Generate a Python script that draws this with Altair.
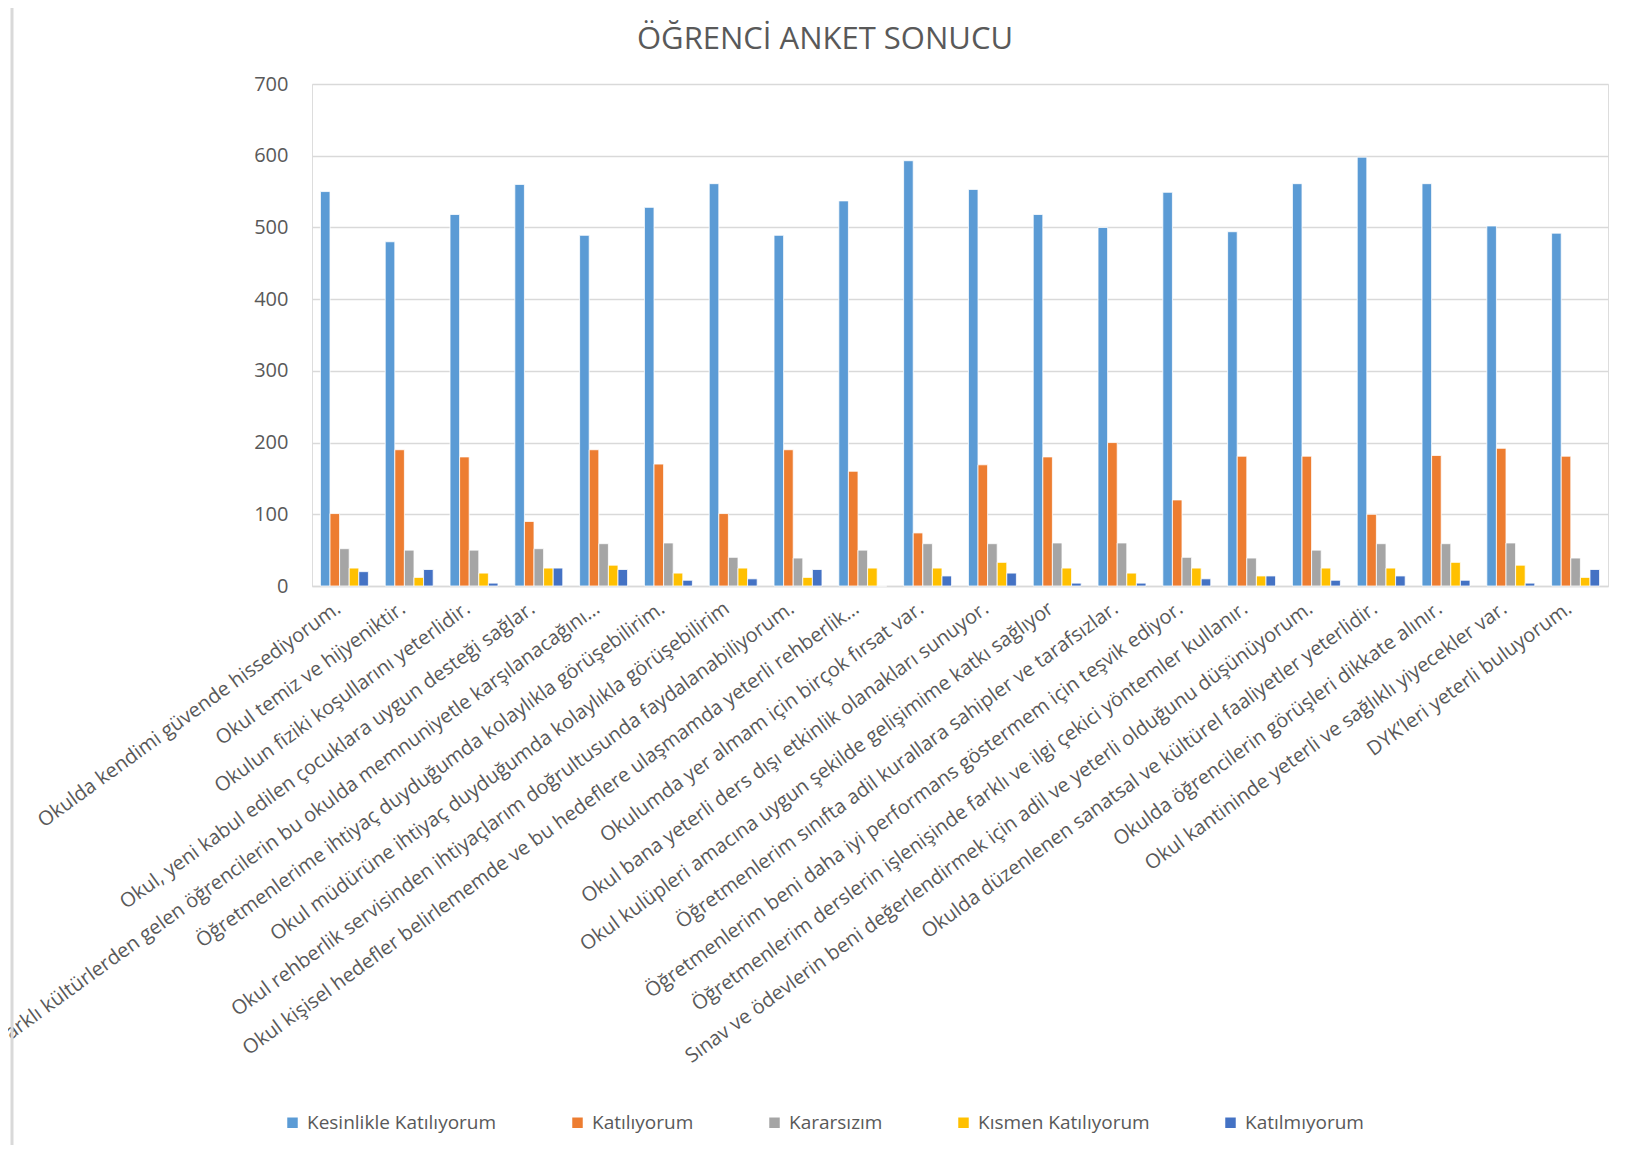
import altair as alt
import pandas as pd

categories = [
    "Okulda kendimi güvende hissediyorum.",
    "Okul temiz ve hijyeniktir.",
    "Okulun fiziki koşullarını yeterlidir.",
    "Okul, yeni kabul edilen çocuklara uygun desteği sağlar.",
    "Farklı kültürlerden gelen öğrencilerin bu okulda memnuniyetle karşılanacağını…",
    "Öğretmenlerime ihtiyaç duyduğumda kolaylıkla görüşebilirim.",
    "Okul müdürüne ihtiyaç duyduğumda kolaylıkla görüşebilirim",
    "Okul rehberlik servisinden ihtiyaçlarım doğrultusunda faydalanabiliyorum.",
    "Okul kişisel hedefler belirlememde ve bu hedeflere ulaşmamda yeterli rehberlik…",
    "Okulumda yer almam için birçok fırsat var.",
    "Okul bana yeterli ders dışı etkinlik olanakları sunuyor.",
    "Okul kulüpleri amacına uygun şekilde gelişimime katkı sağlıyor",
    "Öğretmenlerim sınıfta adil kurallara sahipler ve tarafsızlar.",
    "Öğretmenlerim beni daha iyi performans göstermem için teşvik ediyor.",
    "Öğretmenlerim derslerin işlenişinde farklı ve ilgi çekici yöntemler kullanır.",
    "Sınav ve ödevlerin beni değerlendirmek için adil ve yeterli olduğunu düşünüyorum.",
    "Okulda düzenlenen sanatsal ve kültürel faaliyetler yeterlidir.",
    "Okulda öğrencilerin görüşleri dikkate alınır.",
    "Okul kantininde yeterli ve sağlıklı yiyecekler var.",
    "DYK’leri yeterli buluyorum.",
]

series_names = ["Kesinlikle Katılıyorum", "Katılıyorum", "Kararsızım", "Kısmen Katılıyorum", "Katılmıyorum"]
series_colors = ["#5B9BD5", "#ED7D31", "#A5A5A5", "#FFC000", "#4472C4"]

kesinlikle_katiliyorum = [550, 480, 518, 560, 489, 528, 561, 489, 537, 593, 553, 518, 500, 549, 494, 561, 598, 561, 502, 492]
katiliyorum = [101, 190, 180, 90, 190, 170, 101, 190, 160, 74, 169, 180, 200, 120, 181, 181, 100, 182, 192, 181]
kararsizim = [52, 50, 50, 52, 59, 60, 40, 39, 50, 59, 59, 60, 60, 40, 39, 50, 59, 59, 60, 39]
kismen_katiliyorum = [25, 12, 18, 25, 29, 18, 25, 12, 25, 25, 33, 25, 18, 25, 14, 25, 25, 33, 29, 12]
katilmiyorum = [20, 23, 4, 25, 23, 8, 10, 23, 0, 14, 18, 4, 4, 10, 14, 8, 14, 8, 4, 23]

chart_title = ["ÖĞRENCİ ANKET SONUCU"]

series_values = [kesinlikle_katiliyorum, katiliyorum, kararsizim, kismen_katiliyorum, katilmiyorum]

rows = []
for name, vals in zip(series_names, series_values):
    for cat, v in zip(categories, vals):
        rows.append({"Soru": cat, "Cevap": name, "Sayı": v})
df = pd.DataFrame(rows)

FONT = "Open Sans"
TEXT = "#595959"
GRID = "#D9D9D9"

bars = alt.Chart(df).mark_bar(stroke="white", strokeWidth=0.8).encode(
    x=alt.X(
        "Soru:N",
        sort=categories,
        scale=alt.Scale(paddingInner=0.26, paddingOuter=0.13),
        axis=alt.Axis(
            title=None,
            labelAngle=-36,
            labelAlign="right",
            labelBaseline="middle",
            labelOffset=-6,
            labelPadding=20,
            labelFontSize=20,
            labelFont=FONT,
            labelColor=TEXT,
            labelLimit=0,
            labelOverlap=False,
            ticks=False,
            domainColor=GRID,
            domainWidth=1.5,
        ),
    ),
    xOffset=alt.XOffset("Cevap:N", sort=series_names, scale=alt.Scale(paddingInner=0.0)),
    y=alt.Y(
        "Sayı:Q",
        scale=alt.Scale(domain=[0, 700]),
        axis=alt.Axis(
            title=None,
            values=[0, 100, 200, 300, 400, 500, 600, 700],
            labelFontSize=20,
            labelFont=FONT,
            labelColor=TEXT,
            labelPadding=24,
            ticks=False,
            domain=False,
            grid=True,
            gridColor=GRID,
            gridWidth=1.4,
        ),
    ),
    color=alt.Color(
        "Cevap:N",
        sort=series_names,
        scale=alt.Scale(domain=series_names, range=series_colors),
        legend=alt.Legend(
            title=None,
            orient="none",
            direction="horizontal",
            legendX=-29,
            legendY=1029,
            symbolType="square",
            symbolSize=110,
            symbolStrokeWidth=0,
            labelFontSize=19,
            labelFont=FONT,
            labelColor=TEXT,
            labelLimit=500,
            columnPadding=71,
            labelOffset=5,
        ),
    ),
)

frame = alt.Chart(pd.DataFrame({"k": [0]})).mark_rule(color=GRID, strokeWidth=3).encode(
    x=alt.value(-300), y=alt.value(-76), y2=alt.value(1100)
)

title = alt.Chart(pd.DataFrame({"t": chart_title})).mark_text(
    font=FONT,
    fontSize=31,
    color=TEXT,
    align="center",
    baseline="alphabetic",
).encode(text="t:N", x=alt.value(513), y=alt.value(-35))

chart = alt.layer(frame, title, bars).properties(
    width=1296,
    height=502,
    padding={"left": 304, "top": 76, "right": 17, "bottom": 559},
    autosize=alt.AutoSizeParams(type="none"),
).configure_view(strokeWidth=0).configure(background="white")

chart.save("out.html", embed_options={"renderer": "svg", "actions": False})
